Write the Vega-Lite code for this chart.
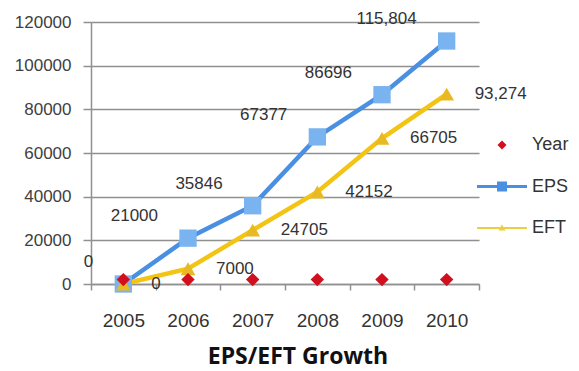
{
  "$schema": "https://vega.github.io/schema/vega-lite/v6.json",
  "width": 388,
  "height": 262,
  "autosize": {"type": "none"},
  "padding": {"left": 91, "top": 22, "right": 100, "bottom": 87},
  "background": "white",
  "title": {"text": "EPS/EFT Growth", "orient": "bottom", "anchor": "middle", "dx": 13, "offset": 16, "font": "Open Sans", "fontSize": 23, "fontWeight": "bold", "color": "#111111"},
  "config": {"view": {"stroke": null}, "font": "Liberation Sans"},
  "data": {"values": [
    {"year": "2005", "series": "Year", "value": 2005, "label": ""},
    {"year": "2006", "series": "Year", "value": 2006, "label": ""},
    {"year": "2007", "series": "Year", "value": 2007, "label": ""},
    {"year": "2008", "series": "Year", "value": 2008, "label": ""},
    {"year": "2009", "series": "Year", "value": 2009, "label": ""},
    {"year": "2010", "series": "Year", "value": 2010, "label": ""},
    {"year": "2005", "series": "EPS", "value": 0, "label": "0"},
    {"year": "2006", "series": "EPS", "value": 21000, "label": "21000"},
    {"year": "2007", "series": "EPS", "value": 35846, "label": "35846"},
    {"year": "2008", "series": "EPS", "value": 67377, "label": "67377"},
    {"year": "2009", "series": "EPS", "value": 86696, "label": "86696"},
    {"year": "2010", "series": "EPS", "value": 111300, "label": "115,804"},
    {"year": "2005", "series": "EFT", "value": 0, "label": "0"},
    {"year": "2006", "series": "EFT", "value": 7000, "label": "7000"},
    {"year": "2007", "series": "EFT", "value": 24705, "label": "24705"},
    {"year": "2008", "series": "EFT", "value": 42152, "label": "42152"},
    {"year": "2009", "series": "EFT", "value": 66705, "label": "66705"},
    {"year": "2010", "series": "EFT", "value": 87000, "label": "93,274"}
  ]},
  "encoding": {
    "x": {"field": "year", "type": "ordinal",
      "scale": {"type": "band", "paddingInner": 0, "paddingOuter": 0},
      "axis": {"title": null, "labelAngle": 0, "labelFontSize": 19, "labelColor": "#333333", "labelPadding": 21,
        "tickBand": "extent", "tickSize": 6, "tickColor": "#909090", "tickWidth": 1.5,
        "domainColor": "#909090", "domainWidth": 1.5, "grid": false}},
    "y": {"field": "value", "type": "quantitative",
      "scale": {"domain": [0, 120000], "nice": false},
      "axis": {"title": null, "values": [0, 20000, 40000, 60000, 80000, 100000, 120000], "format": "d",
        "labelFontSize": 17, "labelColor": "#404040", "labelPadding": 12,
        "tickSize": 8, "tickColor": "#909090", "tickWidth": 1.5,
        "domainColor": "#909090", "domainWidth": 1.5,
        "grid": true, "gridColor": "#909090", "gridWidth": 1.5}}
  },
  "layer": [
    {"transform": [{"filter": "datum.series === 'EPS'"}],
     "mark": {"type": "line", "color": "#4a90e2", "strokeWidth": 4.5}},
    {"transform": [{"filter": "datum.series === 'EFT'"}],
     "mark": {"type": "line", "color": "#f2c414", "strokeWidth": 4.5}},
    {"transform": [{"filter": "datum.series === 'EPS'"}],
     "mark": {"type": "point", "shape": "square", "filled": true, "color": "#7ab4f0", "size": 300, "opacity": 1}},
    {"transform": [{"filter": "datum.series === 'EFT'"}],
     "mark": {"type": "point", "shape": "triangle-up", "filled": true, "color": "#e9b923", "size": 220, "opacity": 1}},
    {"transform": [{"filter": "datum.series === 'Year'"}],
     "mark": {"type": "point", "shape": "diamond", "filled": true, "color": "#d0101f", "size": 180, "opacity": 1}},
    {"transform": [{"filter": "datum.series === 'EPS'"}],
     "mark": {"type": "text", "align": "right", "baseline": "middle", "dx": -30, "dy": -22, "fontSize": 17, "color": "#333333"},
     "encoding": {"text": {"field": "label"}}},
    {"transform": [{"filter": "datum.series === 'EFT'"}],
     "mark": {"type": "text", "align": "left", "baseline": "middle", "dx": 28, "dy": 0, "fontSize": 17, "color": "#333333"},
     "encoding": {"text": {"field": "label"}}},
    {"transform": [{"filter": "datum.value < 0"}],
     "mark": {"type": "point", "filled": true},
     "encoding": {
       "color": {"field": "series", "type": "nominal",
         "scale": {"domain": ["Year", "EPS", "EFT"], "range": ["#d0101f", "#4a90e2", "#e8d040"]},
         "legend": {"orient": "none", "legendX": 386, "legendY": 98, "title": null, "symbolSize": 2500, "symbolStrokeWidth": 0, "symbolOpacity": 1, "labelFontSize": 18, "labelFont": "Liberation Sans", "labelColor": "#333333", "labelOffset": 5, "rowPadding": 7.5}},
       "shape": {"field": "series", "type": "nominal",
         "scale": {"domain": ["Year", "EPS", "EFT"], "range": [
           "M0,-0.18L0.18,0L0,0.18L-0.18,0Z",
           "M-1,-0.06H1V0.06H-1ZM-0.2,-0.2H0.2V0.2H-0.2Z",
           "M-1,-0.04H1V0.04H-1ZM0,-0.14L0.14,0.1H-0.14Z"]},
         "legend": {"orient": "none", "legendX": 386, "legendY": 98, "title": null, "symbolSize": 2500, "symbolStrokeWidth": 0, "symbolOpacity": 1, "labelFontSize": 18, "labelFont": "Liberation Sans", "labelColor": "#333333", "labelOffset": 5, "rowPadding": 7.5}}
     }}
  ]
}
